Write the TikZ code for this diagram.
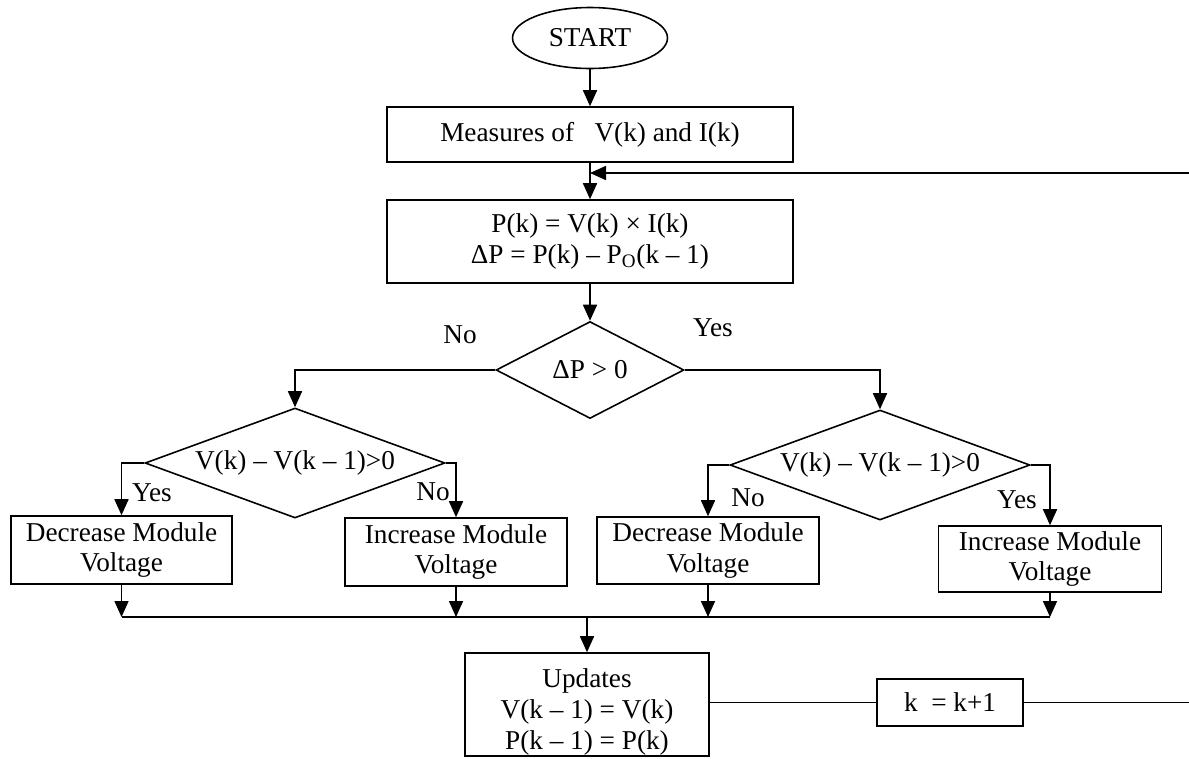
\documentclass[tikz,border=0pt]{standalone}
\usepackage{fontspec}
\setmainfont{Liberation Serif}
\usetikzlibrary{positioning,arrows.meta,shapes.geometric}

\begin{document}
\begin{tikzpicture}[x=0.02cm, y=-0.02cm, >={Triangle[length=3.2mm, width=2.8mm]}, line width=0.9pt, txt/.style={font=\fontsize{15.5}{17.6}\selectfont}, box/.style={txt, rectangle, draw, align=center, inner sep=2pt}, dec/.style={txt, diamond, draw, aspect=2.7, inner sep=0pt}, term/.style={txt, ellipse, draw, inner sep=0pt}]

\useasboundingbox (0,0) rectangle (1189,758);

\node[term, minimum width=3.1cm, minimum height=1.22cm] (start) at (590,38) {START};
\node[box, minimum width=8.12cm, minimum height=1.1cm] (meas) at (590,134.5) {Measures of\ \ \ V(k) and I(k)};
\node[box, minimum width=8.12cm, minimum height=1.66cm] (pw) at (590,241.5) {P(k) = V(k) × I(k)\\ ΔP = P(k) – P\textsubscript{O}(k – 1)};
\node[dec, minimum width=3.76cm, minimum height=1.94cm] (dp) at (590,370) {ΔP > 0};

\node[dec, minimum width=6cm, minimum height=2.2cm] (vl) at (295,463) {V(k) – V(k – 1)>0};
\node[dec, minimum width=6cm, minimum height=2.2cm] (vr) at (880,465) {V(k) – V(k – 1)>0};

\node[box, minimum width=4.42cm, minimum height=1.36cm] (dl) at (121.5,550) {Decrease Module\\ Voltage};
\node[box, minimum width=4.44cm, minimum height=1.36cm] (il) at (456,552) {Increase Module\\ Voltage};
\node[box, minimum width=4.44cm, minimum height=1.34cm] (dr) at (708,550.5) {Decrease Module\\ Voltage};
\node[box, minimum width=4.46cm, minimum height=1.32cm] (ir) at (1050,559) {Increase Module\\ Voltage};

\node[box, minimum width=4.88cm, minimum height=2.06cm, inner ysep=0pt, text height=51pt, text depth=0pt] (upd) at (587,704.5) {Updates\\ V(k – 1) = V(k)\\ P(k – 1) = P(k)};
\node[box, minimum width=2.92cm, minimum height=0.94cm] (kk) at (950,702.5) {k\ \ = k+1};

\node[txt] (no1) at (460,335) {No};
\node[txt] (yes1) at (713,328) {Yes};
\node[txt] (yes2) at (152,493) {Yes};
\node[txt] (no2) at (433,492) {No};
\node[txt] (no3) at (748,498) {No};
\node[txt] (yes3) at (1017,500) {Yes};

\coordinate (bus) at (590,617);
\coordinate (fbin) at (1189,173);
\coordinate (fbout) at (1189,702.5);

\path[->]
 (start) edge (meas)
 (meas) edge (pw)
 (pw) edge (dp)
 (fbin) edge (meas.south |- fbin);

\draw[->] (dp.west) -| (vl.north);
\draw[->] (dp.east) -| (vr.north);
\draw[->] (vl.west) -| (dl.north);
\draw[->] (vl.east) -| (il.north);
\draw[->] (vr.west) -| (dr.north);
\draw[->] (vr.east) -| (ir.north);

\draw[->] (dl.south) -- (dl.south |- bus);
\draw[->] (il.south) -- (il.south |- bus);
\draw[->] (dr.south) -- (dr.south |- bus);
\draw[->] (ir.south) -- (ir.south |- bus);
\draw (dl.south |- bus) -- (ir.south |- bus);
\draw[->] (upd.north |- bus) -- (upd.north);

\draw (upd.east |- kk) -- (kk.west);
\draw (kk.east) -- (fbout);
\end{tikzpicture}
\end{document}
